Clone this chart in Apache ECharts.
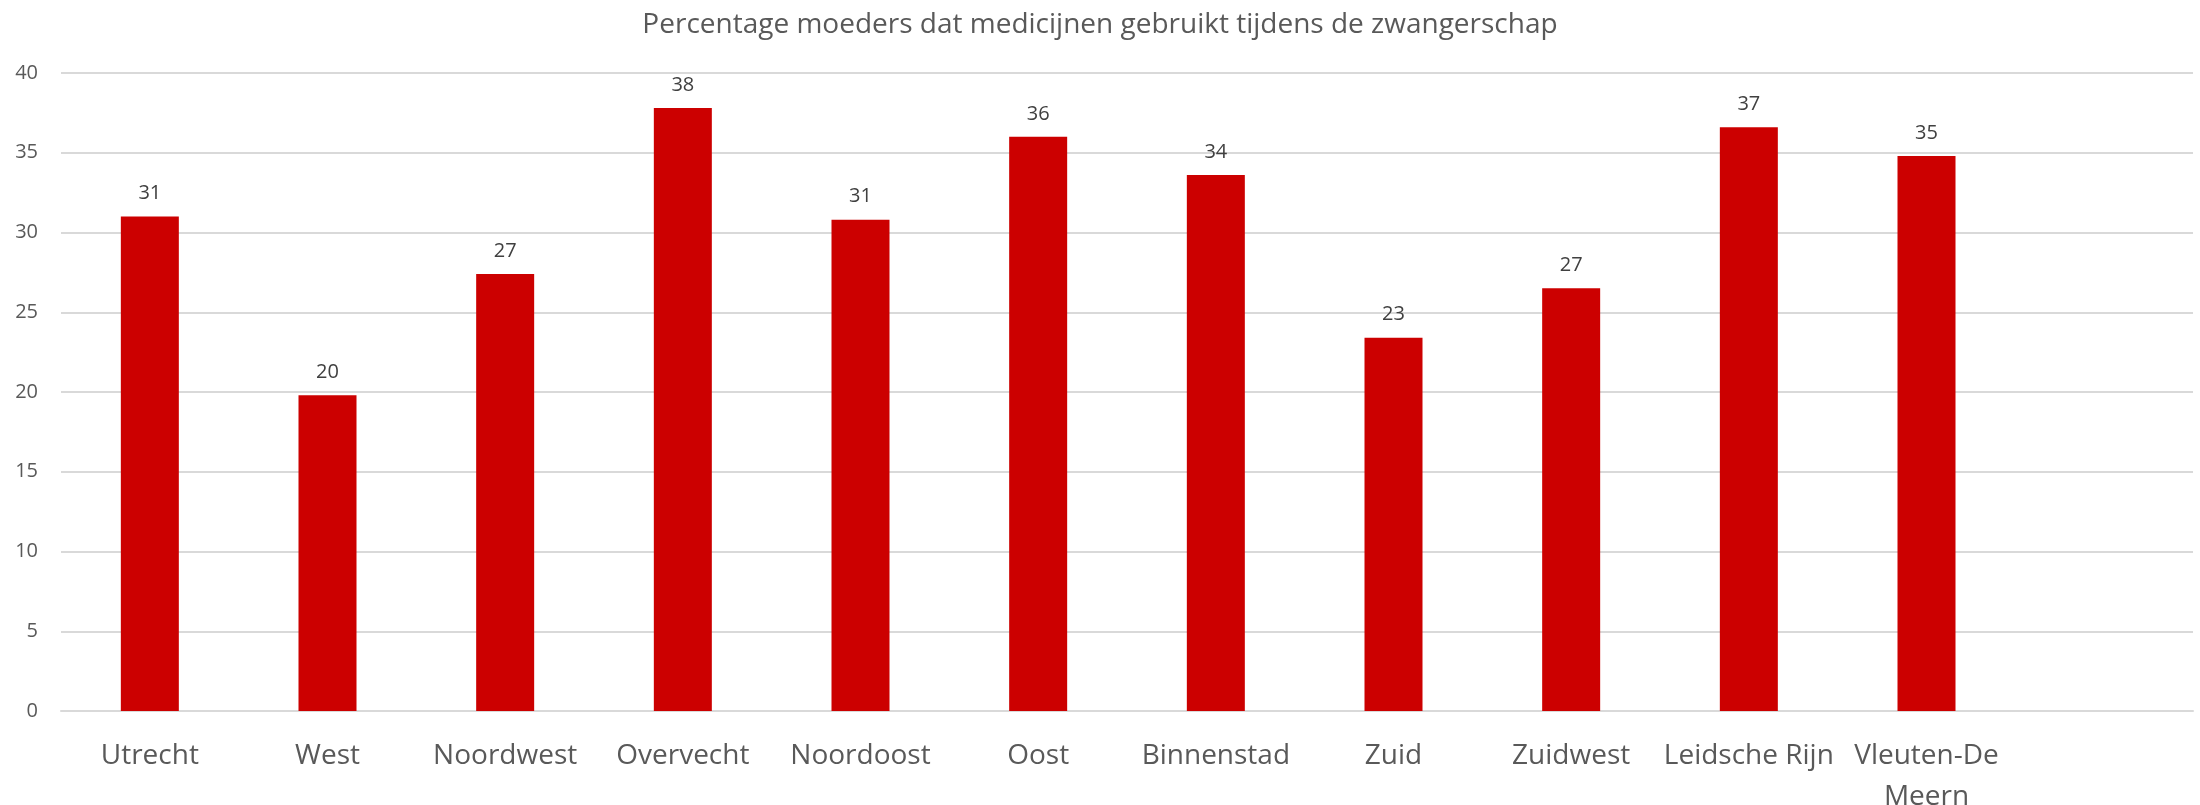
<!DOCTYPE html>
<html>
<head>
<meta charset="utf-8">
<script src="https://cdn.jsdelivr.net/npm/echarts@6/dist/echarts.min.js"></script>
<style>
html,body{margin:0;padding:0;background:#fff;}
#chart{width:2200px;height:805px;}
</style>
</head>
<body>
<div id="chart"></div>
<script>
const titleText = 'Percentage moeders dat medicijnen gebruikt tijdens de zwangerschap';
const categories = ['Utrecht', 'West', 'Noordwest', 'Overvecht', 'Noordoost', 'Oost', 'Binnenstad', 'Zuid', 'Zuidwest', 'Leidsche Rijn', 'Vleuten-De\nMeern', ''];
const values = [31.0, 19.8, 27.4, 37.8, 30.8, 36.0, 33.6, 23.4, 26.5, 36.6, 34.8, null];
const yTicks = [0, 5, 10, 15, 20, 25, 30, 35, 40];

const font = '"Open Sans", "Noto Sans", sans-serif';
const chart = echarts.init(document.getElementById('chart'));
chart.setOption({
  backgroundColor: '#ffffff',
  animation: false,
  title: {
    text: titleText,
    left: 'center',
    top: 6,
    textStyle: { fontFamily: font, fontSize: 28, fontWeight: 'normal', color: '#595959' }
  },
  grid: { left: 61, right: 7, top: 73, bottom: 94, containLabel: false, outerBoundsMode: 'none' },
  xAxis: {
    type: 'category',
    data: categories,
    axisLine: { show: true, lineStyle: { color: '#d9d9d9', width: 2 } },
    axisTick: { show: false },
    axisLabel: {
      interval: 0,
      margin: 25,
      fontFamily: font,
      fontSize: 28,
      lineHeight: 41,
      color: '#595959'
    }
  },
  yAxis: {
    type: 'value',
    min: yTicks[0],
    max: yTicks[yTicks.length - 1],
    interval: yTicks[1] - yTicks[0],
    axisLine: { show: false },
    axisTick: { show: false },
    splitLine: { lineStyle: { color: '#d9d9d9', width: 2 } },
    axisLabel: { margin: 23, fontFamily: font, fontSize: 20, color: '#595959' }
  },
  series: [{
    type: 'bar',
    data: values,
    barWidth: 58,
    itemStyle: { color: '#cc0000' },
    label: {
      show: true,
      position: 'top',
      distance: 13,
      fontFamily: font,
      fontSize: 20,
      color: '#404040',
      formatter: p => p.value == null ? '' : Math.round(p.value)
    }
  }]
});
</script>
</body>
</html>
